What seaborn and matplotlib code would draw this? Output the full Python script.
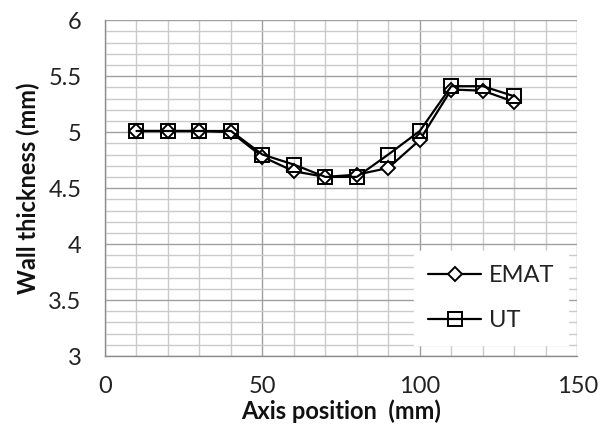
import matplotlib
matplotlib.use("Agg")
import matplotlib.pyplot as plt
from matplotlib.ticker import MultipleLocator
import numpy as np
import pandas as pd
import seaborn as sns

# Wall thickness measured along the axis by two methods
positions = [10, 20, 30, 40, 50, 60, 70, 80, 90, 100, 110, 120, 130]
emat = [5.01, 5.01, 5.01, 5.00, 4.78, 4.65, 4.60, 4.62, 4.68, 4.93, 5.38, 5.37, 5.27]
ut = [5.01, 5.01, 5.01, 5.01, 4.80, 4.71, 4.60, 4.60, 4.80, 5.01, 5.41, 5.41, 5.32]
methods = ["EMAT", "UT"]
y_ticks = [3, 3.5, 4, 4.5, 5, 5.5, 6]
y_tick_labels = ["3", "3.5", "4", "4.5", "5", "5.5", "6"]

df = pd.DataFrame({
    "pos": positions * 2,
    "thickness": emat + ut,
    "method": [methods[0]] * len(emat) + [methods[1]] * len(ut),
})

sns.set_theme(style="white")
plt.rcParams["font.family"] = ["Lato", "DejaVu Sans"]

fig = plt.figure(figsize=(6.0, 4.28), dpi=100)
ax = fig.add_axes([0.175, 0.168, 0.787, 0.785])

# minor grid every 10 mm / 0.1 mm, major grid every 50 mm / 0.5 mm
ax.set_xlim(0, 150)
ax.set_ylim(3, 6)
ax.xaxis.set_major_locator(MultipleLocator(50))
ax.xaxis.set_minor_locator(MultipleLocator(10))
ax.yaxis.set_minor_locator(MultipleLocator(0.1))
ax.grid(which="minor", color="#cbcbcb", linewidth=1.0, zorder=0)
ax.grid(which="major", color="#a0a0a0", linewidth=1.0, zorder=0)
ax.set_axisbelow(True)

sns.lineplot(
    data=df, x="pos", y="thickness", hue="method", style="method",
    palette={"EMAT": "black", "UT": "black"},
    markers={"EMAT": "D", "UT": "s"}, dashes=False,
    linewidth=1.6, markersize=9, ax=ax, zorder=3,
)
for line in ax.lines:
    if line.get_marker() == "D":
        line.set_markerfacecolor("white")
        line.set_markersize(7.5)
    else:
        line.set_markerfacecolor("none")
        line.set_markersize(10)
    line.set_markeredgecolor("black")
    line.set_markeredgewidth(1.4)

for side in ["top", "right"]:
    ax.spines[side].set_visible(False)
for side in ["left", "bottom"]:
    ax.spines[side].set_color("#8c8c8c")
    ax.spines[side].set_linewidth(1.0)

ax.set_yticks(y_ticks)
ax.set_yticklabels(y_tick_labels)
ax.tick_params(axis="both", which="major", direction="out", length=5,
               width=1.0, color="#8c8c8c", labelsize=17, labelcolor="#222222")
ax.tick_params(axis="y", which="major", pad=12)
ax.tick_params(axis="x", which="major", pad=9)
ax.tick_params(axis="both", which="minor", direction="in", length=5,
               width=1.0, color="#8c8c8c")

ax.set_xlabel("Axis position  (mm)", fontsize=17, fontweight="bold",
              labelpad=2, color="#111111")
ax.set_ylabel("Wall thickness (mm)", fontsize=17, fontweight="bold",
              labelpad=6, color="#111111")

handles, labels = ax.get_legend_handles_labels()
leg = ax.legend(handles, labels, loc="lower right", bbox_to_anchor=(0.981, 0.033),
                borderaxespad=0, frameon=True, fontsize=17, handlelength=2.25,
                handletextpad=0.3, labelspacing=1.0, borderpad=0.6, fancybox=False)
leg.get_frame().set_facecolor("white")
leg.get_frame().set_edgecolor("white")
leg.get_frame().set_alpha(1.0)
for t in leg.get_texts():
    t.set_color("#222222")

fig.savefig("out.png", dpi=100)
